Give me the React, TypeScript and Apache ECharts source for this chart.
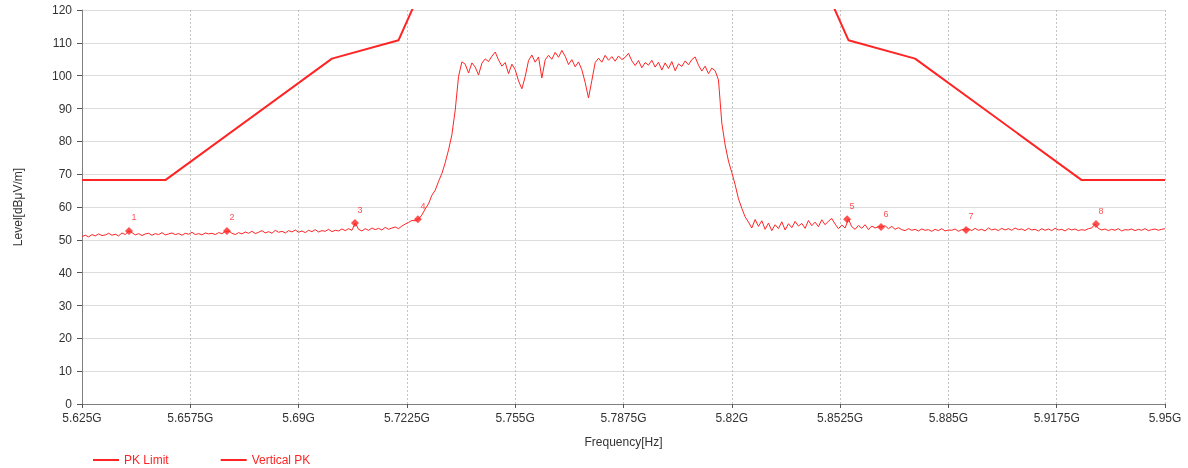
import React, { useEffect, useRef } from "react";
import * as echarts from "echarts";

// Frequency axis (MHz), ticks every 32.5 MHz
const axisStartMHz = 5625;
const axisEndMHz = 5950;
const axisStepMHz = 32.5;

// PK Limit breakpoints
const limitFreqMHz = [5625, 5650, 5700, 5720, 5725, 5850, 5855, 5875, 5925, 5950];
const limitLevel = [68.2, 68.2, 105.2, 110.8, 122.2, 122.2, 110.8, 105.2, 68.2, 68.2];

// Vertical PK trace: one reading per MHz starting at 5625 MHz
const traceStartMHz = 5625;
const traceStepMHz = 1;
const traceLevel = [
  51.0, 51.4, 50.9, 51.6, 51.2, 51.8, 51.3, 51.5, 52.0, 51.4,
  51.7, 51.2, 52.1, 51.6, 52.7, 52.2, 51.5, 51.9, 51.3, 51.8,
  52.0, 51.4, 51.9, 51.6, 52.2, 51.5, 51.8, 52.1, 51.6, 51.9,
  51.4, 52.0, 51.7, 52.3, 51.6, 51.9, 51.5, 52.1, 51.8, 52.0,
  51.6, 52.2, 51.9, 52.5, 52.7, 52.0, 51.6, 52.2, 51.8, 52.4,
  52.0, 52.6, 51.9, 52.3, 52.8, 52.1, 52.5, 52.0, 52.9, 52.3,
  52.6, 52.1, 52.8, 52.4, 53.0, 52.3, 52.7, 52.2, 52.9, 52.5,
  53.1, 52.4, 52.8, 52.6, 53.2, 52.5, 52.9, 52.7, 53.3, 52.8,
  53.4, 52.9, 55.1, 53.2, 52.7, 53.4, 52.9, 53.6, 53.1, 53.5,
  53.0, 53.8, 53.2, 53.6, 53.9, 53.4, 54.2, 54.8, 55.3, 55.9,
  55.8, 56.3, 57.6, 59.4, 61.0, 63.6, 65.1, 67.8, 70.2, 73.5,
  77.4, 82.0, 89.5, 99.8, 104.2, 103.5, 100.8, 103.9, 102.6, 100.2,
  103.8, 105.1, 104.3, 105.9, 107.2, 104.8, 102.9, 104.0, 100.6, 103.5,
  101.8, 98.4, 96.0, 99.7, 104.6, 106.3, 104.1, 105.7, 99.3, 104.8,
  106.2, 105.0, 107.1, 105.6, 107.7, 105.9, 103.4, 104.9, 102.7, 104.2,
  101.8, 97.9, 93.2, 98.5, 104.0, 105.3, 104.1, 106.2, 104.7, 105.8,
  104.4, 106.0, 104.9, 105.6, 106.8, 104.5, 103.1, 104.6, 102.4, 104.0,
  103.2, 104.7, 102.6, 104.1, 101.7, 103.9, 102.2, 104.3, 101.5, 103.6,
  102.8, 104.5, 103.3, 104.9, 105.7, 103.2, 101.4, 102.9, 100.6, 102.3,
  101.5, 98.7, 85.6, 78.9, 74.0, 70.5, 66.8, 62.5, 59.6, 57.0,
  55.4, 53.6, 56.2, 54.1, 55.8, 53.2, 55.1, 52.8, 54.6, 53.4,
  55.5, 53.0, 54.9, 53.7, 55.6, 54.2, 55.0, 53.5, 55.9, 54.3,
  55.4, 54.0, 56.1, 54.6, 55.7, 56.5, 54.8, 53.4, 54.5, 53.6,
  56.3, 54.0, 53.2, 54.4, 53.5, 54.6, 53.1, 54.2, 53.6, 54.0,
  53.9, 54.3, 53.4, 54.1, 53.2, 53.7, 53.1, 52.8, 53.4, 52.9,
  53.2, 52.7, 53.3, 52.9, 53.1, 52.6, 53.2, 52.8, 53.4, 52.7,
  53.0, 52.9, 53.3, 52.6, 53.1, 53.0, 53.4, 52.8, 53.5, 52.9,
  53.2, 52.7, 53.6, 53.0, 53.3, 52.8, 53.5, 53.0, 53.4, 52.9,
  53.6, 53.1, 53.3, 52.8, 53.5, 53.0, 53.2, 52.7, 53.4, 52.9,
  53.3, 52.8, 53.5, 53.0, 53.2, 52.7, 53.4, 53.0, 53.3, 52.8,
  53.1, 52.9, 53.4, 53.6, 54.8, 53.5, 53.0, 53.3, 52.8, 53.2,
  52.9, 53.4, 52.7, 53.1, 53.0, 53.3, 52.8, 53.2, 52.9, 53.4,
  52.8, 53.1, 53.3, 52.9, 53.2, 53.4,
];

// Markers
const markerLabel = ["1", "2", "3", "4", "5", "6", "7", "8"];
const markerFreqMHz = [5639.1, 5668.5, 5706.9, 5725.8, 5854.6, 5864.8, 5890.3, 5929.3];
const markerLevel = [52.7, 52.7, 55.1, 56.3, 56.3, 53.9, 53.0, 54.8];

const RED = "#ff2424";

function fmtFreq(offsetMHz: number): string {
  const ghz = (axisStartMHz + offsetMHz) / 1000;
  let s = ghz.toFixed(4);
  s = s.replace(/0+$/, "").replace(/\.$/, "");
  return s + "G";
}

export default function App() {
  const ref = useRef<HTMLDivElement>(null);
  useEffect(() => {
    document.body.style.margin = "0";
    if (!ref.current) return;
    const chart = echarts.init(ref.current, undefined, { renderer: "svg" });
    const limitData = limitFreqMHz.map((f, i) => [f - axisStartMHz, limitLevel[i]]);
    const traceData = traceLevel.map((v, i) => [traceStartMHz + i * traceStepMHz - axisStartMHz, v]);
    const markerData = markerFreqMHz.map((f, i) => ({
      value: [f - axisStartMHz, markerLevel[i]],
      label: { formatter: markerLabel[i] },
    }));
    const font = "Liberation Sans, Arial, sans-serif";
    chart.setOption({
      animation: false,
      textStyle: { fontFamily: font },
      grid: { left: 82, right: 23, top: 10, bottom: 64 },
      legend: {
        left: 88,
        top: 449,
        itemGap: 52,
        itemWidth: 26,
        itemHeight: 2,
        icon: "rect",
        textStyle: { color: RED, fontSize: 12, fontFamily: font },
        data: ["PK Limit", "Vertical PK"],
      },
      xAxis: {
        type: "value",
        min: 0,
        max: axisEndMHz - axisStartMHz,
        interval: axisStepMHz,
        name: "Frequency[Hz]",
        nameLocation: "middle",
        nameGap: 32,
        nameTextStyle: { color: "#333", fontSize: 12, fontFamily: font },
        axisLine: { lineStyle: { color: "#7f7f7f", width: 1 } },
        axisTick: { show: true, length: 4, lineStyle: { color: "#555" } },
        axisLabel: { color: "#333", fontSize: 12, margin: 8, formatter: (v: number) => fmtFreq(v) },
        splitLine: { show: true, lineStyle: { color: "#c4c4c4", type: [2, 2], width: 1 } },
      },
      yAxis: {
        type: "value",
        min: 0,
        max: 120,
        interval: 10,
        name: "Level[dBμV/m]",
        nameLocation: "middle",
        nameGap: 58,
        nameTextStyle: { color: "#333", fontSize: 12, fontFamily: font },
        axisLine: { show: true, lineStyle: { color: "#7f7f7f", width: 1 } },
        axisTick: { show: true, length: 5, lineStyle: { color: "#555" } },
        axisLabel: { color: "#333", fontSize: 12, margin: 10 },
        splitLine: { show: true, lineStyle: { color: "#dcdcdc", type: "solid", width: 1 } },
      },
      series: [
        {
          name: "PK Limit",
          type: "line",
          data: limitData,
          showSymbol: false,
          symbol: "none",
          clip: true,
          lineStyle: { color: RED, width: 2 },
          itemStyle: { color: RED },
          z: 3,
        },
        {
          name: "Vertical PK",
          type: "line",
          data: traceData,
          showSymbol: false,
          symbol: "none",
          lineStyle: { color: RED, width: 1 },
          itemStyle: { color: RED },
          z: 2,
        },
        {
          name: "Markers",
          type: "scatter",
          data: markerData,
          symbol: "diamond",
          symbolSize: 8,
          itemStyle: { color: RED },
          label: {
            show: true,
            position: "top",
            offset: [5, 0],
            color: RED,
            fontSize: 9,
          },
          z: 4,
        },
      ],
    });
    return () => chart.dispose();
  }, []);
  return <div ref={ref} style={{ position: "fixed", left: 0, top: 0, width: 1188, height: 468 }} />;
}
